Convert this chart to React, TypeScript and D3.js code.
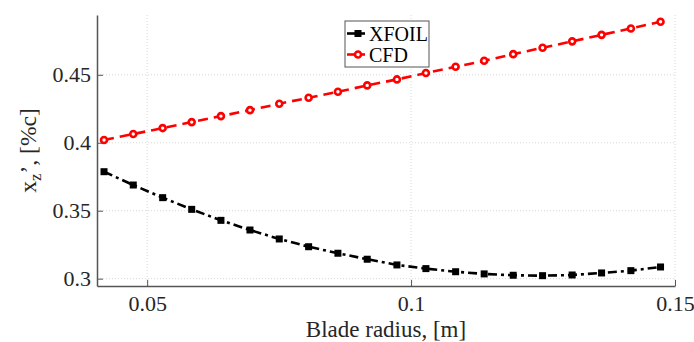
import * as d3 from "d3";
import { useEffect, useRef } from "react";

// blade radius [m]
const radius = [
  0.04183, 0.04737, 0.05294, 0.05844, 0.06398, 0.06948, 0.07503, 0.08059,
  0.08614, 0.09169, 0.09732, 0.10281, 0.10844, 0.11385, 0.11935, 0.12491,
  0.13052, 0.13609, 0.14164, 0.14726,
];
const xfoil = [
  0.3787, 0.3689, 0.3596, 0.351, 0.3429, 0.3358, 0.3292, 0.3235, 0.3187,
  0.3143, 0.3101, 0.3074, 0.3051, 0.3035, 0.3025, 0.3022, 0.3027, 0.3042,
  0.3059, 0.3086,
];
const cfd = [
  0.402, 0.4064, 0.4108, 0.4152, 0.4196, 0.424, 0.4287, 0.4331, 0.4375,
  0.4422, 0.4466, 0.4513, 0.4559, 0.4603, 0.4652, 0.4699, 0.4746, 0.4794,
  0.4841, 0.489,
];
const xTicks = [0.05, 0.1, 0.15];
const yTicks = [0.3, 0.35, 0.4, 0.45];
const seriesNames = ["XFOIL", "CFD"];

const width = 694;
const height = 342;
const marginLeft = 97;
const marginRight = 19;
const marginTop = 15;
const marginBottom = 56;
const font = "Liberation Serif";
const axisColor = "#555";
const textColor = "#262626";

export default function App() {
  const svgRef = useRef<SVGSVGElement>(null);

  useEffect(() => {
    if (!svgRef.current) return;
    const svg = d3.select(svgRef.current);
    svg.selectAll("*").remove();

    const x = d3.scaleLinear([0.0405, 0.15], [marginLeft, width - marginRight]);
    const y = d3.scaleLinear([0.2946, 0.494], [height - marginBottom, marginTop]);

    // grid
    const grid = svg
      .append("g")
      .attr("stroke", "#d8d8d8")
      .attr("stroke-width", 1)
      .attr("stroke-dasharray", "1,2");
    grid
      .selectAll("line.gx")
      .data(xTicks)
      .join("line")
      .attr("x1", (d) => x(d))
      .attr("x2", (d) => x(d))
      .attr("y1", marginTop)
      .attr("y2", height - marginBottom);
    grid
      .selectAll("line.gy")
      .data(yTicks)
      .join("line")
      .attr("x1", marginLeft)
      .attr("x2", width - marginRight)
      .attr("y1", (d) => y(d))
      .attr("y2", (d) => y(d));

    // axes (MATLAB style, ticks pointing inward)
    const xAxis = d3
      .axisBottom(x)
      .tickValues(xTicks)
      .tickFormat((d) => String(d))
      .tickSizeInner(-6)
      .tickSizeOuter(0)
      .tickPadding(9);
    const yAxis = d3
      .axisLeft(y)
      .tickValues(yTicks)
      .tickFormat((d) => String(d))
      .tickSizeInner(-6)
      .tickSizeOuter(0)
      .tickPadding(6);

    const gx = svg
      .append("g")
      .attr("transform", `translate(0,${height - marginBottom})`)
      .call(xAxis);
    const gy = svg.append("g").attr("transform", `translate(${marginLeft},0)`).call(yAxis);
    [gx, gy].forEach((g) => {
      g.attr("font-family", font).attr("font-size", 22);
      g.select(".domain").attr("stroke", axisColor).attr("stroke-width", 1.5);
      g.selectAll(".tick line").attr("stroke", axisColor).attr("stroke-width", 1);
      g.selectAll(".tick text").attr("fill", textColor);
    });

    // lines
    const line = d3
      .line<number>()
      .x((_, i) => x(radius[i]))
      .y((d) => y(d));

    svg
      .append("path")
      .datum(cfd)
      .attr("fill", "none")
      .attr("stroke", "#ff0000")
      .attr("stroke-width", 2.6)
      .attr("stroke-dasharray", "10,6")
      .attr("d", line);
    svg
      .append("path")
      .datum(xfoil)
      .attr("fill", "none")
      .attr("stroke", "#000")
      .attr("stroke-width", 2.6)
      .attr("stroke-dasharray", "9,4,3,4")
      .attr("d", line);

    svg
      .append("g")
      .selectAll("rect")
      .data(xfoil)
      .join("rect")
      .attr("x", (d, i) => x(radius[i]) - 3.5)
      .attr("y", (d) => y(d) - 3.5)
      .attr("width", 7)
      .attr("height", 7)
      .attr("fill", "#000");
    svg
      .append("g")
      .selectAll("circle")
      .data(cfd)
      .join("circle")
      .attr("cx", (d, i) => x(radius[i]))
      .attr("cy", (d) => y(d))
      .attr("r", 3)
      .attr("fill", "#fff")
      .attr("stroke", "#ff0000")
      .attr("stroke-width", 2.6);

    // axis labels
    svg
      .append("text")
      .attr("x", (marginLeft + width - marginRight) / 2)
      .attr("y", 337)
      .attr("text-anchor", "middle")
      .attr("fill", textColor)
      .attr("font-family", font)
      .attr("font-size", 23)
      .text("Blade radius, [m]");

    const yl = svg
      .append("text")
      .attr("transform", `translate(36,${(marginTop + height - marginBottom) / 2}) rotate(-90)`)
      .attr("text-anchor", "middle")
      .attr("fill", textColor)
      .attr("font-family", font)
      .attr("font-size", 23.5);
    yl.append("tspan").text("x");
    yl.append("tspan").attr("dy", 5).attr("font-size", 17).text("z");
    yl.append("tspan").attr("dy", -5).text("’, [%c]");

    // legend
    const lg = svg.append("g").attr("transform", "translate(345,21)");
    lg.append("rect")
      .attr("width", 84)
      .attr("height", 46)
      .attr("fill", "#fff")
      .attr("stroke", "#555")
      .attr("stroke-width", 1);
    const colors = ["#000", "#ff0000"];
    seriesNames.forEach((name, i) => {
      const cy = 12.5 + i * 21;
      const row = lg.append("g").attr("transform", `translate(0,${cy})`);
      row
        .append("line")
        .attr("x1", 2)
        .attr("x2", 20)
        .attr("stroke", colors[i])
        .attr("stroke-width", 2.6);
      if (i === 0) {
        row.append("rect").attr("x", 9.5).attr("y", -3.5).attr("width", 7).attr("height", 7).attr("fill", "#000");
      } else {
        row
          .append("circle")
          .attr("cx", 13)
          .attr("r", 3)
          .attr("fill", "#fff")
          .attr("stroke", "#ff0000")
          .attr("stroke-width", 2.6);
      }
      row
        .append("text")
        .attr("x", 24)
        .attr("y", 7)
        .attr("fill", "#000")
        .attr("font-family", font)
        .attr("font-size", 20)
        .text(name);
    });

    return () => {
      d3.select(svgRef.current).selectAll("*").remove();
    };
  }, []);

  return (
    <svg
      ref={svgRef}
      width={width}
      height={height}
      style={{ position: "absolute", left: 0, top: 0, background: "#fff" }}
    />
  );
}
